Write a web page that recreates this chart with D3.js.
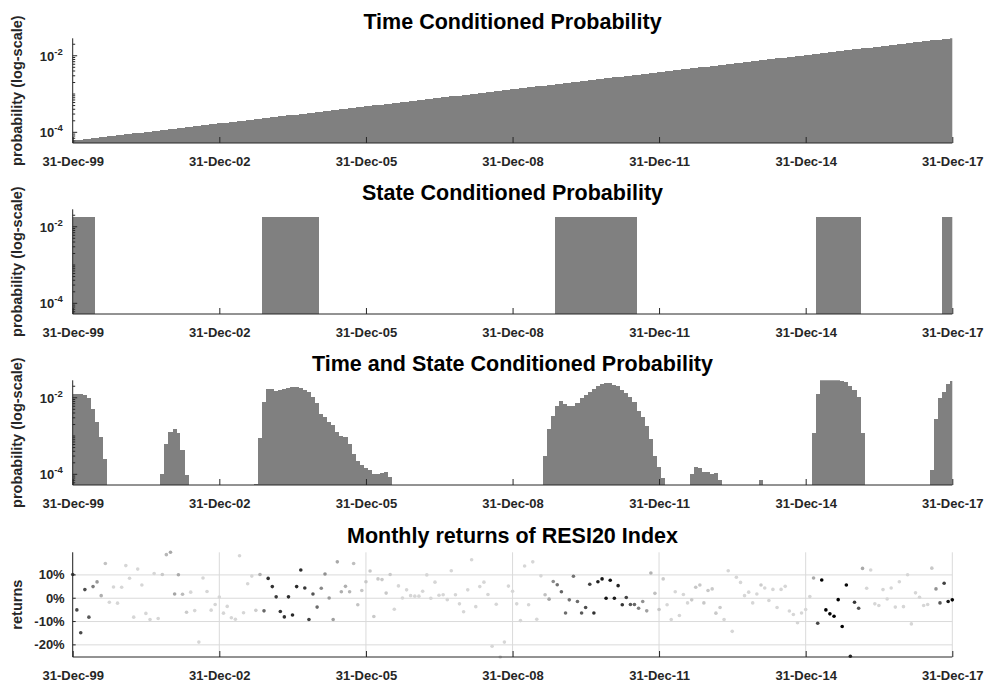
<!DOCTYPE html>
<html>
<head>
<meta charset="utf-8">
<script src="https://cdn.jsdelivr.net/npm/d3@7"></script>
<style>
  body { margin: 0; background: #fff; }
  svg { display: block; }
  text { font-family: "Liberation Sans", Arial, Helvetica, sans-serif; font-weight: bold; fill: #262626; }
</style>
</head>
<body>
<svg id="chart" width="989" height="684"></svg>
<script>
// Monthly observations: month ends from 31-Dec-1999 to 31-Dec-2017 (217 months)
const firstMonthEnd = "1999-12-31";
const monthCount = 217;

const tickDates = ["1999-12-31", "2002-12-31", "2005-12-31", "2008-12-31", "2011-12-31", "2014-12-31", "2017-12-31"];

const titles = [
  "Time Conditioned Probability",
  "State Conditioned Probability",
  "Time and State Conditioned Probability",
  "Monthly returns of RESI20 Index"
];
const probLabel = "probability (log-scale)";
const returnsLabel = "returns";

// Exponentially time-weighted probabilities (one per month)
const timeProb = [
  6.08e-5,6.26e-5,6.44e-5,6.62e-5,6.82e-5,7.01e-5,7.22e-5,7.43e-5,7.64e-5,7.86e-5,8.09e-5,8.32e-5,
  8.57e-5,8.81e-5,9.07e-5,9.33e-5,9.60e-5,9.88e-5,1.02e-4,1.05e-4,1.08e-4,1.11e-4,1.14e-4,1.17e-4,
  1.21e-4,1.24e-4,1.28e-4,1.31e-4,1.35e-4,1.39e-4,1.43e-4,1.47e-4,1.52e-4,1.56e-4,1.61e-4,1.65e-4,
  1.70e-4,1.75e-4,1.80e-4,1.85e-4,1.91e-4,1.96e-4,2.02e-4,2.08e-4,2.14e-4,2.20e-4,2.26e-4,2.33e-4,
  2.39e-4,2.46e-4,2.54e-4,2.61e-4,2.68e-4,2.76e-4,2.84e-4,2.92e-4,3.01e-4,3.10e-4,3.19e-4,3.28e-4,
  3.37e-4,3.47e-4,3.57e-4,3.67e-4,3.78e-4,3.89e-4,4.00e-4,4.12e-4,4.24e-4,4.36e-4,4.49e-4,4.62e-4,
  4.75e-4,4.89e-4,5.03e-4,5.18e-4,5.33e-4,5.48e-4,5.64e-4,5.80e-4,5.97e-4,6.14e-4,6.32e-4,6.50e-4,
  6.69e-4,6.89e-4,7.08e-4,7.29e-4,7.50e-4,7.72e-4,7.94e-4,8.17e-4,8.41e-4,8.65e-4,8.90e-4,9.16e-4,
  9.43e-4,9.70e-4,9.98e-4,1.03e-3,1.06e-3,1.09e-3,1.12e-3,1.15e-3,1.18e-3,1.22e-3,1.25e-3,1.29e-3,
  1.33e-3,1.37e-3,1.41e-3,1.45e-3,1.49e-3,1.53e-3,1.58e-3,1.62e-3,1.67e-3,1.72e-3,1.77e-3,1.82e-3,
  1.87e-3,1.92e-3,1.98e-3,2.04e-3,2.10e-3,2.16e-3,2.22e-3,2.28e-3,2.35e-3,2.42e-3,2.49e-3,2.56e-3,
  2.63e-3,2.71e-3,2.79e-3,2.87e-3,2.95e-3,3.04e-3,3.13e-3,3.22e-3,3.31e-3,3.41e-3,3.50e-3,3.61e-3,
  3.71e-3,3.82e-3,3.93e-3,4.04e-3,4.16e-3,4.28e-3,4.40e-3,4.53e-3,4.66e-3,4.80e-3,4.94e-3,5.08e-3,
  5.23e-3,5.38e-3,5.53e-3,5.69e-3,5.86e-3,6.03e-3,6.20e-3,6.38e-3,6.57e-3,6.76e-3,6.95e-3,7.15e-3,
  7.36e-3,7.58e-3,7.80e-3,8.02e-3,8.25e-3,8.49e-3,8.74e-3,8.99e-3,9.25e-3,9.52e-3,9.79e-3,1.01e-2,
  1.04e-2,1.07e-2,1.10e-2,1.13e-2,1.16e-2,1.20e-2,1.23e-2,1.27e-2,1.30e-2,1.34e-2,1.38e-2,1.42e-2,
  1.46e-2,1.50e-2,1.55e-2,1.59e-2,1.64e-2,1.69e-2,1.73e-2,1.78e-2,1.84e-2,1.89e-2,1.94e-2,2.00e-2,
  2.06e-2,2.12e-2,2.18e-2,2.24e-2,2.31e-2,2.37e-2,2.44e-2,2.51e-2,2.59e-2,2.66e-2,2.74e-2,2.82e-2,
  2.90e-2
];

// Runs of months (first, last index) in the matching state, each with equal probability
const stateRunStart = [0, 47, 119, 183, 214];
const stateRunEnd   = [5, 60, 138, 193, 216];
const stateProbValue = 0.0185;

// Combined time- and state-conditioned probabilities (0 = no weight)
const timeStateProb = [
  0.0125,0.0125,0.0122,0.0118,0.0096,0.0051,0.0023,0.00093,0.00025,0,0,0,
  0,0,0,0,0,0,0,0,0,0,1.0e-4,6.1e-4,
  0.0013,0.0015,0.0012,4.4e-4,9.7e-5,0,0,0,0,0,0,0,
  0,0,0,0,0,0,0,0,0,5.5e-5,8.8e-4,0.0076,
  0.0169,0.0169,0.0151,0.0160,0.0169,0.0178,0.0186,0.0186,0.0178,0.0160,0.0138,0.0106,
  0.0071,0.0038,0.0031,0.0023,0.0019,0.0013,0.0010,0.00093,6.3e-4,3.4e-4,2.2e-4,1.7e-4,
  1.5e-4,1.26e-4,1.0e-4,1.0e-4,1.1e-4,1.15e-4,8.7e-5,0,0,0,0,0,
  0,0,0,0,0,0,0,0,0,0,0,0,
  0,0,0,0,0,0,0,0,0,0,0,0,
  0,0,0,0,0,0,0,0,3.1e-4,0.00153,0.0034,0.0062,
  0.0080,0.0069,0.0060,0.0060,0.0071,0.0098,0.0118,0.0138,0.0169,0.0206,0.0228,0.0237,
  0.0237,0.0220,0.0199,0.0163,0.0133,0.0102,0.0079,0.0046,0.0031,0.0018,8.3e-4,3.1e-4,
  1.6e-4,8.1e-5,0,0,0,0,0,0,1.0e-4,1.6e-4,1.44e-4,1.18e-4,
  1.18e-4,1.03e-4,1.1e-4,6.9e-5,0,0,0,0,0,0,0,0,
  0,7.0e-5,0,0,0,0,0,0,0,0,0,0,
  0,0,0.0012,0.0127,0.0285,0.0285,0.0283,0.0283,0.0285,0.0280,0.0265,0.0205,
  0.0160,0.0106,0.0012,0,0,0,0,0,0,0,0,0,
  0,0,0,0,0,0,0,1.26e-4,0.0028,0.0098,0.0138,0.0228,
  0.0277
];

// Monthly index returns, in percent
const returnsPct = [
  10.2,-5.0,-14.8,3.7,-8.1,5.0,7.0,1.1,14.9,-1.7,4.8,-2.1,
  4.7,14.0,8.6,-8.1,12.5,5.7,-6.5,-9.1,10.6,-8.7,10.2,18.7,
  19.7,1.8,10.1,1.7,-6.0,2.6,-5.3,-18.8,8.7,2.9,-5.1,-2.7,
  0.5,-6.4,-3.5,-8.4,-9.0,18.2,-6.2,6.2,9.5,-5.2,10.2,-5.4,
  8.5,5.0,0.6,-5.7,-8.0,0.6,-7.2,5.0,12.1,4.4,-9.1,1.8,
  -3.8,4.3,10.4,0.1,-9.1,15.6,2.8,5.1,2.8,14.9,-2.8,3.3,
  7.1,11.7,-7.8,8.3,8.0,2.2,10.2,-4.7,5.3,0.1,3.6,1.1,
  0.9,0.9,3.0,10.0,0.0,6.9,1.3,1.5,-0.6,11.8,1.5,-2.4,
  -5.8,3.6,16.5,-3.6,5.0,6.9,1.6,-20.6,-2.6,-25.2,-18.8,5.2,
  3.0,-2.4,-9.6,13.8,-2.8,15.6,-9.0,9.6,1.5,-0.4,7.2,5.8,
  2.8,-6.3,-0.7,9.4,-1.4,-6.3,-4.0,6.0,-6.3,7.1,8.3,0.0,
  7.7,0.0,5.4,-2.8,0.3,-2.7,-2.7,-4.3,-1.4,-5.4,10.8,2.1,
  -4.8,8.3,-2.8,-9.1,2.8,-7.4,1.6,-2.0,-0.7,4.7,5.7,-2.0,
  3.3,4.0,-6.4,-4.0,-9.1,11.8,-14.2,9.0,6.8,1.1,2.6,-2.0,
  1.8,5.7,4.4,-1.0,3.8,-4.0,3.8,5.1,-5.5,-7.0,-10.5,-6.3,
  -4.8,0.7,8.7,-10.7,7.8,-5.0,-6.7,-7.7,-0.6,-12.1,5.7,-24.9,
  -1.7,-4.3,12.8,4.3,12.1,-2.4,-3.1,3.7,-0.3,4.4,-3.8,7.1,
  -3.6,10.1,-11.0,2.3,0.4,-3.1,-2.7,12.9,4.0,-2.0,6.4,-1.4,
  -0.7
];
const returnTicks = [-20, -10, 0, 10];

// ---------------------------------------------------------------------------
const parseDay = d3.timeParse("%Y-%m-%d");
const start = parseDay(firstMonthEnd);
// month-end date of month i (i = 0 is the first observation)
const monthEnd = i => new Date(start.getFullYear(), start.getMonth() + 1 + i, 0);
const months = d3.range(monthCount).map(monthEnd);

// state-conditioned series expanded from the runs
const stateProb = months.map((d, i) =>
  stateRunStart.some((s, k) => i >= s && i <= stateRunEnd[k]) ? stateProbValue : 0);

const svg = d3.select("#chart");
const plotLeft = 72.7, plotRight = 952.3;
const x = d3.scaleTime().domain([months[0], months[monthCount - 1]]).range([plotLeft, plotRight]);
const fmt = d3.timeFormat("%d-%b-%y");
const ticks = tickDates.map(parseDay);
const ink = "#262626";
const tickFont = "13px";

const panelTop = [38.3, 209.3, 380.3, 552.3];
const panelH = 104.7;

function drawTitle(i) {
  svg.append("text")
    .attr("x", (plotLeft + plotRight) / 2)
    .attr("y", panelTop[i] - 9)
    .attr("text-anchor", "middle")
    .style("font-size", "21.5px")
    .style("fill", "#000")
    .text(titles[i]);
}

function drawXAxis(g, bottom) {
  const ax = d3.axisBottom(x).tickValues(ticks).tickFormat(fmt)
    .tickSize(-6).tickPadding(14);
  const a = g.append("g").attr("transform", `translate(0,${bottom})`).call(ax);
  a.attr("font-family", null).attr("font-size", null);
  a.select(".domain").remove();
  a.selectAll("line").attr("stroke", ink);
  a.selectAll("text").style("font-size", tickFont).attr("fill", ink);
  g.append("line").attr("x1", plotLeft).attr("x2", plotRight)
    .attr("y1", bottom).attr("y2", bottom).attr("stroke", ink).attr("stroke-width", 1);
}

function drawYLabel(text, cy) {
  svg.append("text")
    .attr("transform", `translate(22,${cy}) rotate(-90)`)
    .attr("text-anchor", "middle")
    .style("font-size", "14.5px")
    .text(text);
}

// ---- three log-scale bar panels ----
const barSeries = [timeProb, stateProb, timeStateProb];
barSeries.forEach((vals, p) => {
  const top = panelTop[p], bottom = top + panelH;
  const y = d3.scaleLog().domain([5.26e-5, 0.0286]).range([bottom, top]).clamp(true);
  const g = svg.append("g");
  const clipId = "clip" + p;
  svg.append("clipPath").attr("id", clipId).append("rect")
    .attr("x", plotLeft).attr("y", top).attr("width", plotRight - plotLeft).attr("height", panelH);

  const bars = months.map((d, i) => ({
    v: vals[i],
    x0: (x(monthEnd(i - 1)) + x(d)) / 2,
    x1: (x(d) + x(monthEnd(i + 1))) / 2
  })).filter(b => b.v > 0);

  g.append("g").attr("clip-path", `url(#${clipId})`)
    .selectAll("rect").data(bars).join("rect")
    .attr("x", b => b.x0).attr("width", b => b.x1 - b.x0)
    .attr("y", b => y(b.v)).attr("height", b => bottom - y(b.v))
    .attr("fill", "#808080").attr("shape-rendering", "crispEdges");

  // y axis: line, minor and major ticks
  g.append("line").attr("x1", plotLeft).attr("x2", plotLeft)
    .attr("y1", top).attr("y2", bottom).attr("stroke", ink);
  const minor = [];
  for (let e = -5; e <= -2; e++) for (let k = 1; k <= 9; k++) {
    const v = k * Math.pow(10, e);
    if (v >= y.domain()[0] && v <= y.domain()[1]) minor.push(v);
  }
  g.selectAll(".minor").data(minor).join("line")
    .attr("x1", plotLeft).attr("x2", v => plotLeft + ((v === 1e-4 || v === 1e-2) ? 4.5 : 2.5))
    .attr("y1", v => y(v)).attr("y2", v => y(v)).attr("stroke", ink);
  const majors = [1e-4, 1e-2];
  const lab = g.selectAll(".ylab").data(majors).join("text")
    .attr("x", plotLeft - 10).attr("y", v => y(v) + 5)
    .attr("text-anchor", "end").style("font-size", tickFont);
  lab.append("tspan").text("10");
  lab.append("tspan").attr("dy", -6).style("font-size", "9.5px")
    .text(v => String(Math.round(Math.log10(v))));

  drawXAxis(g, bottom);
  drawTitle(p);
  drawYLabel(probLabel, top + panelH / 2);
});

// ---- returns scatter panel ----
{
  const top = panelTop[3], bottom = top + panelH;
  const y = d3.scaleLinear().domain(d3.extent(returnsPct)).range([bottom, top]);
  const g = svg.append("g");
  const grid = "#dadada";
  g.selectAll(".hg").data(returnTicks).join("line")
    .attr("x1", plotLeft).attr("x2", plotRight)
    .attr("y1", v => y(v)).attr("y2", v => y(v)).attr("stroke", grid);
  g.selectAll(".vg").data(ticks).join("line")
    .attr("x1", d => x(d)).attr("x2", d => x(d))
    .attr("y1", top).attr("y2", bottom).attr("stroke", grid);

  // dot shade follows the combined conditional probability
  const shade = d3.scaleSqrt().domain([0, 0.0286]).range([0, 1]).clamp(true);
  const colour = p => d3.interpolateRgb("#d6d6d6", "#000000")(shade(p));
  const pts = months.map((d, i) => ({ d, r: returnsPct[i], p: timeStateProb[i] }))
    .sort((a, b) => a.p - b.p);
  g.selectAll("circle").data(pts).join("circle")
    .attr("cx", o => x(o.d)).attr("cy", o => y(o.r)).attr("r", 1.8)
    .attr("fill", o => colour(o.p));

  g.append("line").attr("x1", plotLeft).attr("x2", plotLeft)
    .attr("y1", top).attr("y2", bottom).attr("stroke", ink);
  g.selectAll(".yt").data(returnTicks).join("line")
    .attr("x1", plotLeft).attr("x2", plotLeft + 3)
    .attr("y1", v => y(v)).attr("y2", v => y(v)).attr("stroke", ink);
  g.selectAll(".ylab").data(returnTicks).join("text")
    .attr("x", plotLeft - 8).attr("y", v => y(v) + 4.5)
    .attr("text-anchor", "end").style("font-size", tickFont)
    .text(v => v + "%");

  drawXAxis(g, bottom);
  drawTitle(3);
  drawYLabel(returnsLabel, top + panelH / 2);
}
</script>
</body>
</html>
